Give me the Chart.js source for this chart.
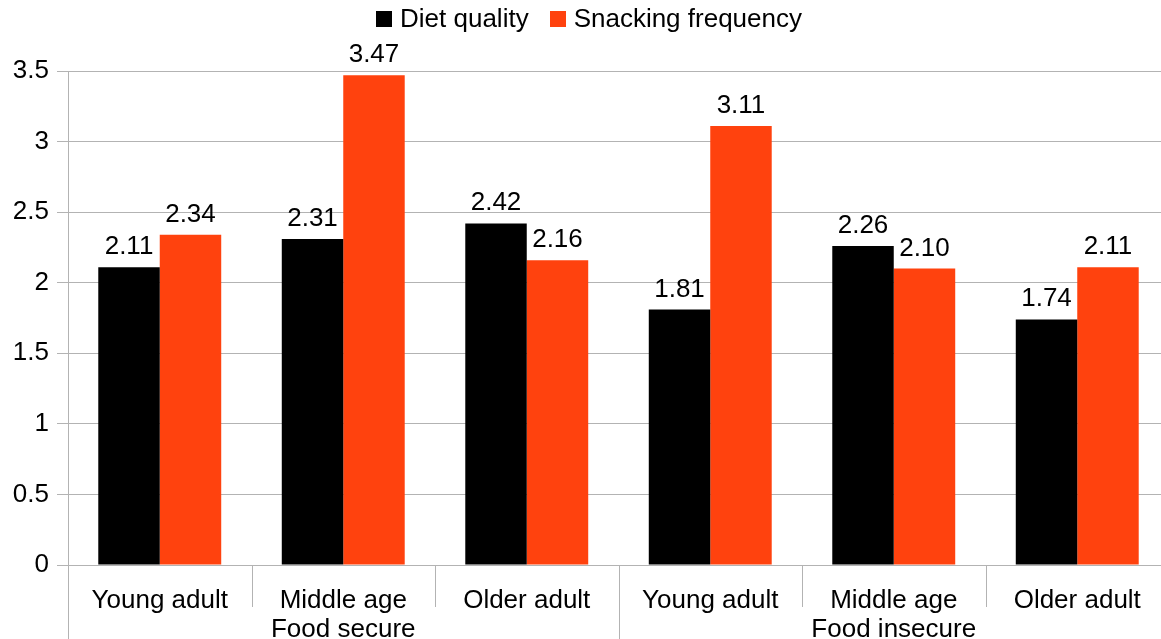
<!DOCTYPE html>
<html>
<head>
<meta charset="utf-8">
<script src="https://cdn.jsdelivr.net/npm/chart.js@4/dist/chart.umd.min.js"></script>
<style>
  html, body { margin: 0; padding: 0; background: #fff; width: 1161px; height: 639px; overflow: hidden; }
  #wrap { position: absolute; left: 0; top: 0; width: 1170px; height: 660px; }
</style>
</head>
<body>
<div id="wrap"><canvas id="c" width="1170" height="660"></canvas></div>
<script>
// Food security status groups, each split into three age bands
const groups = ["Food secure", "Food insecure"];
const ageBands = ["Young adult", "Middle age", "Older adult"];

// Mean scores per group/age band
const dietQuality = [2.11, 2.31, 2.42, 1.81, 2.26, 1.74];
const snackingFrequency = [2.34, 3.47, 2.16, 3.11, 2.10, 2.11];

// Value axis
const yMin = 0;
const yMax = 3.5;
const yStep = 0.5;

const seriesNames = ["Diet quality", "Snacking frequency"];
const seriesColors = ["#000000", "#ff420e"];

const FONT = '"Liberation Sans", Arial, sans-serif';
const GRID = "#b3b3b3";

// Two-level category labels: the group name sits under the middle age band
const labels = [];
groups.forEach(g => {
  ageBands.forEach((a, i) => {
    labels.push(i === Math.floor(ageBands.length / 2) ? [a, g] : [a]);
  });
});

// Separators under the category axis; group edges run to the bottom
const separatorPlugin = {
  id: "separators",
  afterDraw(chart) {
    const x = chart.scales.x;
    const ctx = chart.ctx;
    const n = labels.length;
    const bottom = chart.chartArea.bottom;
    ctx.save();
    ctx.strokeStyle = GRID;
    ctx.lineWidth = 1;
    for (let i = 0; i <= n; i++) {
      let px;
      if (i === 0) px = x.left;
      else if (i === n) px = x.right;
      else px = (x.getPixelForValue(i - 1) + x.getPixelForValue(i)) / 2;
      px = Math.round(px) + 0.5;
      const isGroupEdge = i % ageBands.length === 0;
      ctx.beginPath();
      ctx.moveTo(px, bottom);
      ctx.lineTo(px, isGroupEdge ? chart.height : bottom + 42);
      ctx.stroke();
    }
    ctx.restore();
  }
};

// Value labels above every bar
const valueLabelPlugin = {
  id: "valueLabels",
  afterDatasetsDraw(chart) {
    const ctx = chart.ctx;
    ctx.save();
    ctx.font = "26px " + FONT;
    ctx.fillStyle = "#000";
    ctx.textAlign = "center";
    ctx.textBaseline = "alphabetic";
    chart.data.datasets.forEach((ds, di) => {
      const meta = chart.getDatasetMeta(di);
      meta.data.forEach((bar, i) => {
        ctx.fillText(ds.data[i].toFixed(2), bar.x, bar.y - 13);
      });
    });
    ctx.restore();
  }
};

// Legend row across the top
const legendPlugin = {
  id: "topLegend",
  afterDraw(chart) {
    const ctx = chart.ctx;
    ctx.save();
    ctx.font = "26px " + FONT;
    ctx.textBaseline = "alphabetic";
    ctx.textAlign = "left";
    const box = 16, gap = 8, between = 21;
    const items = chart.data.datasets.map(ds => ({
      text: ds.label, color: ds.backgroundColor, w: ctx.measureText(ds.label).width
    }));
    let total = 0;
    items.forEach((it, i) => { total += box + gap + it.w + (i ? between : 0); });
    let x = chart.width / 2 + 4 - total / 2;
    items.forEach(it => {
      ctx.fillStyle = it.color;
      ctx.fillRect(Math.round(x), 11, box, box);
      ctx.fillStyle = "#000";
      ctx.fillText(it.text, x + box + gap, 27);
      x += box + gap + it.w + between;
    });
    ctx.restore();
  }
};

Chart.defaults.font.family = FONT;
Chart.defaults.color = "#000";

new Chart(document.getElementById("c"), {
  type: "bar",
  data: {
    labels: labels,
    datasets: [
      { label: seriesNames[0], data: dietQuality, backgroundColor: seriesColors[0] },
      { label: seriesNames[1], data: snackingFrequency, backgroundColor: seriesColors[1] }
    ]
  },
  options: {
    responsive: false,
    animation: false,
    devicePixelRatio: 1,
    layout: { padding: { top: 71, left: 0, right: 1, bottom: 0 } },
    datasets: { bar: { categoryPercentage: 0.67, barPercentage: 1.0, borderWidth: 0 } },
    plugins: {
      legend: { display: false },
      tooltip: { enabled: false }
    },
    scales: {
      x: {
        grid: { display: false, drawTicks: false },
        border: { display: false },
        ticks: {
          autoSkip: false, maxRotation: 0, minRotation: 0,
          padding: 22,
          font: { size: 26, lineHeight: 1.1 },
          color: "#000"
        },
        afterFit(scale) { scale.height = 95; }
      },
      y: {
        min: yMin,
        max: yMax,
        ticks: {
          stepSize: yStep,
          padding: 8,
          font: { size: 26 },
          color: "#000",
          callback: v => String(Math.round(v * 10) / 10)
        },
        grid: { color: GRID, lineWidth: 1, tickLength: 11 },
        border: { display: true, color: GRID, width: 1 },
        afterFit(scale) { scale.width = 68; }
      }
    }
  },
  plugins: [separatorPlugin, valueLabelPlugin, legendPlugin]
});
</script>
</body>
</html>
